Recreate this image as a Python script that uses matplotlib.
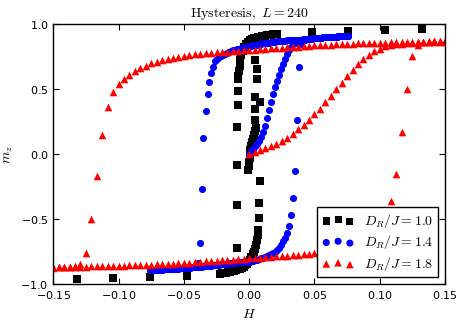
import numpy as np
import matplotlib
matplotlib.use('Agg')
import matplotlib.pyplot as plt

# ---- D_R/J = 1.8 (red triangles), field grid shared by all three sweeps
h_red = [-0.15, -0.1458, -0.1417, -0.1375, -0.1333, -0.1292, -0.125, -0.1208, -0.1167, -0.1125,
         -0.1083, -0.1042, -0.1, -0.0958, -0.0917, -0.0875, -0.0833, -0.0792, -0.075, -0.0708,
         -0.0667, -0.0625, -0.0583, -0.0542, -0.05, -0.0458, -0.0417, -0.0375, -0.0333, -0.0292,
         -0.025, -0.0208, -0.0167, -0.0125, -0.0083, -0.0042, 0.0, 0.0042, 0.0083, 0.0125,
         0.0167, 0.0208, 0.025, 0.0292, 0.0333, 0.0375, 0.0417, 0.0458, 0.05, 0.0542,
         0.0583, 0.0625, 0.0667, 0.0708, 0.075, 0.0792, 0.0833, 0.0875, 0.0917, 0.0958,
         0.1, 0.1042, 0.1083, 0.1125, 0.1167, 0.1208, 0.125, 0.1292, 0.1333, 0.1375,
         0.1417, 0.1458, 0.15]
# first sweep, H from 0 to 0.15
m_red_start = [0.0, 0.02, 0.035, 0.05, 0.065, 0.08, 0.10, 0.125, 0.155, 0.19,
               0.225, 0.265, 0.307, 0.35, 0.40, 0.45, 0.50, 0.55, 0.60, 0.645,
               0.69, 0.73, 0.762, 0.79, 0.81, 0.828, 0.838, 0.845, 0.85, 0.854,
               0.857, 0.859, 0.861, 0.862, 0.863, 0.864, 0.865]
# sweep 0.15 -> -0.15 (listed in ascending H)
m_red_upper = [-0.872, -0.87, -0.868, -0.865, -0.86, -0.84, -0.756, -0.50, -0.17, 0.15,
               0.36, 0.475, 0.537, 0.577, 0.61, 0.639, 0.66, 0.68, 0.697, 0.71,
               0.722, 0.731, 0.741, 0.75, 0.758, 0.765, 0.769, 0.772, 0.775, 0.779,
               0.782, 0.785, 0.788, 0.791, 0.794, 0.797, 0.80, 0.803, 0.806, 0.809,
               0.812, 0.815, 0.818, 0.821, 0.824, 0.827, 0.830, 0.833, 0.836, 0.838,
               0.840, 0.842, 0.844, 0.846, 0.848, 0.850, 0.851, 0.853, 0.854, 0.856,
               0.857, 0.858, 0.859, 0.860, 0.861, 0.862, 0.863, 0.864, 0.865, 0.866,
               0.867, 0.868, 0.869]
# sweep -0.15 -> 0.15
m_red_lower = [-0.869, -0.868, -0.867, -0.866, -0.865, -0.864, -0.863, -0.862, -0.861, -0.860,
               -0.859, -0.858, -0.857, -0.856, -0.854, -0.853, -0.851, -0.850, -0.848, -0.846,
               -0.844, -0.842, -0.840, -0.838, -0.836, -0.833, -0.830, -0.827, -0.824, -0.821,
               -0.818, -0.815, -0.812, -0.809, -0.806, -0.803, -0.80, -0.797, -0.794, -0.791,
               -0.788, -0.785, -0.782, -0.779, -0.775, -0.772, -0.769, -0.765, -0.758, -0.75,
               -0.741, -0.731, -0.722, -0.71, -0.697, -0.68, -0.66, -0.639, -0.61, -0.577,
               -0.537, -0.475, -0.36, -0.15, 0.17, 0.50, 0.756, 0.84, 0.86, 0.865,
               0.868, 0.87, 0.872]

# ---- D_R/J = 1.4 (blue circles)
h_blue = [-0.076, -0.0745, -0.073, -0.0714, -0.0699, -0.0684, -0.0669, -0.0654, -0.0638, -0.0623,
          -0.0608, -0.0593, -0.0578, -0.0562, -0.0547, -0.0532, -0.0517, -0.0502, -0.0486, -0.0471,
          -0.0456, -0.0441, -0.0426, -0.041, -0.0395, -0.038, -0.0365, -0.035, -0.0334, -0.0319,
          -0.0304, -0.0289, -0.0274, -0.0258, -0.0243, -0.0228, -0.0213, -0.0198, -0.0182, -0.0167,
          -0.0152, -0.0137, -0.0122, -0.0106, -0.0091, -0.0076, -0.0061, -0.0046, -0.003, -0.0015,
          0.0, 0.0015, 0.003, 0.0046, 0.0061, 0.0076, 0.0091, 0.0106, 0.0122, 0.0137,
          0.0152, 0.0167, 0.0182, 0.0198, 0.0213, 0.0228, 0.0243, 0.0258, 0.0274, 0.0289,
          0.0304, 0.0319, 0.0334, 0.035, 0.0365, 0.038, 0.0395, 0.041, 0.0426, 0.0441,
          0.0456, 0.0471, 0.0486, 0.0502, 0.0517, 0.0532, 0.0547, 0.0562, 0.0578, 0.0593,
          0.0608, 0.0623, 0.0638, 0.0654, 0.0669, 0.0684, 0.0699, 0.0714, 0.073, 0.0745,
          0.076]
# first sweep, H from 0 to 0.076
m_blue_start = [0.0, 0.025, 0.04, 0.06, 0.08, 0.105, 0.135, 0.17, 0.22, 0.275,
                0.34, 0.40, 0.465, 0.52, 0.565, 0.61, 0.655, 0.695, 0.735, 0.77,
                0.80, 0.825, 0.845, 0.858, 0.866, 0.872, 0.876, 0.879, 0.882, 0.884,
                0.886, 0.888, 0.890, 0.892, 0.893, 0.895, 0.896, 0.897, 0.898, 0.899,
                0.900, 0.901, 0.902, 0.903, 0.904, 0.905, 0.906, 0.907, 0.908, 0.909,
                0.910]
m_blue_upper = [-0.892, -0.891, -0.890, -0.889, -0.888, -0.887, -0.886, -0.885, -0.884, -0.883,
                -0.882, -0.881, -0.880, -0.879, -0.878, -0.877, -0.876, -0.875, -0.874, -0.873,
                -0.871, -0.870, -0.869, -0.862, -0.835, -0.684, -0.27, 0.122, 0.334, 0.462,
                0.557, 0.62, 0.672, 0.715, 0.735, 0.75, 0.758, 0.765, 0.772, 0.779,
                0.785, 0.791, 0.797, 0.802, 0.807, 0.811, 0.815, 0.819, 0.823, 0.826,
                0.83, 0.833, 0.836, 0.839, 0.842, 0.845, 0.848, 0.851, 0.853, 0.856,
                0.858, 0.86, 0.862, 0.864, 0.866, 0.868, 0.869, 0.871, 0.872, 0.874,
                0.875, 0.876, 0.877, 0.878, 0.879, 0.88, 0.881, 0.882, 0.883, 0.884,
                0.886, 0.888, 0.890, 0.892, 0.893, 0.895, 0.896, 0.897, 0.898, 0.899,
                0.900, 0.901, 0.902, 0.903, 0.904, 0.905, 0.906, 0.907, 0.908, 0.909,
                0.910]
m_blue_lower = [-0.892, -0.891, -0.890, -0.889, -0.888, -0.887, -0.886, -0.885, -0.884, -0.883,
                -0.882, -0.881, -0.880, -0.879, -0.878, -0.877, -0.876, -0.875, -0.874, -0.873,
                -0.871, -0.870, -0.869, -0.867, -0.866, -0.865, -0.863, -0.862, -0.860, -0.859,
                -0.857, -0.856, -0.854, -0.852, -0.851, -0.849, -0.847, -0.845, -0.843, -0.841,
                -0.839, -0.837, -0.835, -0.833, -0.831, -0.830, -0.829, -0.828, -0.827, -0.826,
                -0.825, -0.822, -0.818, -0.814, -0.810, -0.805, -0.800, -0.795, -0.789, -0.783,
                -0.777, -0.770, -0.760, -0.750, -0.738, -0.722, -0.700, -0.670, -0.640, -0.602,
                -0.55, -0.467, -0.336, -0.126, 0.26, 0.67, 0.85, 0.875, 0.88, 0.883,
                0.886, 0.888, 0.890, 0.892, 0.893, 0.895, 0.896, 0.897, 0.898, 0.899,
                0.900, 0.901, 0.902, 0.903, 0.904, 0.905, 0.906, 0.907, 0.908, 0.909,
                0.910]

# ---- D_R/J = 1.0 (black squares), uneven field steps
h_black = [-0.132, -0.104, -0.0758, -0.0478,
           -0.0223, -0.0208, -0.0193, -0.0178, -0.0163, -0.0148, -0.0133, -0.0118, -0.0103, -0.0088,
           -0.0073, -0.0058, -0.0043, -0.003, -0.0018, -0.0006, 0.0006, 0.0016, 0.0026, 0.0035,
           0.0044, 0.0051, 0.0057, 0.0064, 0.007,
           0.0075, 0.0077, 0.0083,
           -0.0007, -0.0003, 0.0, 0.0003, 0.0006, 0.001, 0.0015, 0.002, 0.0028, 0.0036, 0.0044, 0.0052,
           0.0044, 0.0044, 0.0083, 0.0044, 0.0057, 0.0057, 0.0044,
           -0.0082, -0.0085, -0.0085, -0.009, -0.0092, -0.0092, -0.0096,
           -0.0082, -0.0078, -0.0073, -0.0068, -0.006, -0.005, -0.004, -0.0025, -0.001, 0.0005,
           0.002, 0.0035, 0.005, 0.0065, 0.008, 0.0095, 0.011, 0.0125, 0.014, 0.0155,
           0.017, 0.0185, 0.02, 0.0215,
           0.0478, 0.0758, 0.104, 0.132]
m_black = [-0.958, -0.953, -0.945, -0.932,
           -0.918, -0.915, -0.912, -0.909, -0.906, -0.902, -0.898, -0.894, -0.89, -0.885,
           -0.879, -0.872, -0.864, -0.853, -0.84, -0.826, -0.81, -0.79, -0.77, -0.75,
           -0.73, -0.695, -0.66, -0.62, -0.58,
           -0.487, -0.377, -0.203,
           -0.12, -0.09, -0.06, -0.03, 0.0, 0.03, 0.06, 0.09, 0.12, 0.15, 0.18, 0.205,
           0.26, 0.35, 0.40, 0.44, 0.578, 0.654, 0.72,
           0.58, 0.486, 0.378, 0.207, -0.08, -0.393, -0.722,
           0.60, 0.64, 0.68, 0.72, 0.76, 0.795, 0.825, 0.85, 0.865, 0.875,
           0.883, 0.889, 0.894, 0.898, 0.902, 0.905, 0.908, 0.911, 0.914, 0.916,
           0.918, 0.92, 0.922, 0.924,
           0.936, 0.946, 0.954, 0.959]

labels = [r'$D_R/J = 1.0$', r'$D_R/J = 1.4$', r'$D_R/J = 1.8$']

plt.rcParams['mathtext.fontset'] = 'cm'
plt.rcParams['axes.formatter.use_mathtext'] = True

fig = plt.figure(figsize=(4.64, 3.25), dpi=100)
ax = fig.add_axes([0.1149, 0.1249, 0.8442, 0.8012])

h_red_pos = h_red[36:]
ax.scatter(h_black, m_black, s=26, marker='s', c='k', linewidths=0, label=labels[0])
ax.scatter(list(h_blue[50:]) + h_blue + h_blue,
           m_blue_start + m_blue_upper + m_blue_lower,
           s=26, marker='o', c='b', linewidths=0, label=labels[1])
ax.scatter(h_red_pos + h_red + h_red,
           m_red_start + m_red_upper + m_red_lower,
           s=30, marker='^', c='r', linewidths=0, label=labels[2])

ax.set_xlim(-0.15, 0.15)
ax.set_ylim(-1.0, 1.0)
ax.set_xticks(np.arange(-0.15, 0.151, 0.05))
ax.set_yticks([-1.0, -0.5, 0.0, 0.5, 1.0])
ax.tick_params(direction='in', top=True, right=True, length=4, width=0.8, labelsize=8)
for sp in ax.spines.values():
    sp.set_linewidth(1.0)

ax.set_xlabel(r'$H$', fontsize=10)
ax.set_ylabel(r'$m_z$', fontsize=10)
ax.set_title(r'$\mathrm{Hysteresis,}\ L = 240$', fontsize=10, pad=5)

leg = ax.legend(loc='lower right', scatterpoints=3, scatteryoffsets=[0.375, 0.5, 0.3125],
                fontsize=10, fancybox=False, framealpha=1, edgecolor='black',
                labelspacing=0.25, borderpad=0.35, handletextpad=0.7, handlelength=2.3)
leg.get_frame().set_linewidth(1.0)

plt.savefig('out.png', dpi=100)
